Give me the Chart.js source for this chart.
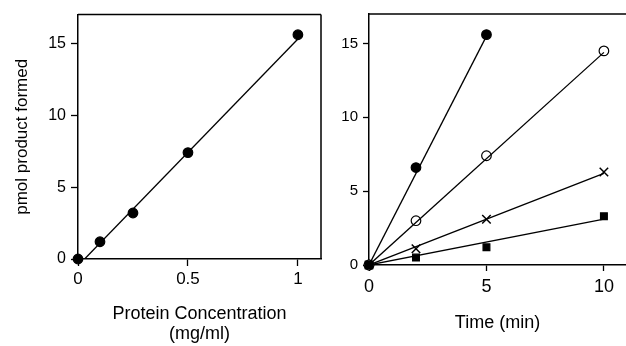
<!DOCTYPE html>
<html>
<head>
<meta charset="utf-8">
<script src="https://cdn.jsdelivr.net/npm/chart.js@4/dist/chart.umd.min.js"></script>
<style>
  html, body { margin: 0; padding: 0; background: #fff; }
  canvas { position: absolute; top: 0; }
  #left-graph { left: 0; }
  #right-graph { left: 325px; }
</style>
</head>
<body>
<canvas id="left-graph" width="325" height="346"></canvas>
<canvas id="right-graph" width="301" height="346"></canvas>
<script>
// Left panel: product vs protein concentration
const concX = [0, 0.1, 0.25, 0.5, 1];
const concY = [0, 1.2, 3.2, 7.4, 15.6];
const concFitX = [0.03, 1];
const concFitY = [0, 15.3];
const concTicksX = [0, 0.5, 1];
const concTickLabelsX = ['0', '0.5', '1'];
const productTicksY = [0, 5, 10, 15];

// Right panel: product vs time, four conditions
const timeX = [0, 2, 5, 10];
const filledCircleY = [0, 6.6, 15.6];
const openCircleY = [0, 3.0, 7.4, 14.5];
const crossY = [0, 1.1, 3.1, 6.3];
const squareY = [0, 0.5, 1.2, 3.3];
const filledFitY = [0, 15.5]; // ends at t = 5
const openFitY = [0, 14.4];
const crossFitY = [0, 6.2];
const squareFitY = [0, 3.1];
const timeTicksX = [0, 5, 10];

const FONT = '"Liberation Sans", Arial, Helvetica, sans-serif';

function pts(xs, ys) {
    return ys.map((y, i) => ({ x: xs[i], y: y }));
}

// draws the remaining sides of the plot box
const framePlugin = {
    id: 'frame',
    afterDraw(chart, args, opts) {
        const { ctx, chartArea: a } = chart;
        ctx.save();
        ctx.strokeStyle = '#000';
        ctx.lineWidth = 1.5;
        ctx.beginPath();
        ctx.moveTo(a.left, a.top);
        ctx.lineTo(a.right, a.top);
        if (opts.right) {
            ctx.moveTo(a.right, a.top);
            ctx.lineTo(a.right, a.bottom);
        }
        ctx.stroke();
        ctx.restore();
    }
};

function fixTicks(values) {
    return scale => { scale.ticks = values.map(v => ({ value: v })); };
}

function pointSet(data, style, radius, fill) {
    return {
        data: data,
        showLine: false,
        pointStyle: style,
        pointRadius: radius,
        pointBackgroundColor: fill,
        pointBorderColor: '#000',
        pointBorderWidth: style === 'crossRot' ? 1.5 : 1.2,
        clip: false
    };
}

function lineSet(data) {
    return {
        data: data,
        showLine: true,
        borderColor: '#000',
        borderWidth: 1.3,
        pointRadius: 0,
        fill: false
    };
}

function axisBase(fontSize, tickLen, pad) {
    return {
        type: 'linear',
        border: { display: true, color: '#000', width: 1.5 },
        grid: { drawOnChartArea: false, drawTicks: true, tickLength: tickLen, tickColor: '#000', tickWidth: 1.3 },
        ticks: { color: '#000', padding: pad, font: { family: FONT, size: fontSize } }
    };
}

// left chart
const lx = axisBase(17, 7, 3);
lx.min = 0; lx.max = 1.105;
lx.afterBuildTicks = fixTicks(concTicksX);
lx.afterFit = s => { s.height = 87; };
lx.ticks.callback = v => concTickLabelsX[concTicksX.indexOf(v)];
lx.title = { display: true, text: ['Protein Concentration', '(mg/ml)'], color: '#000',
    font: { family: FONT, size: 18, lineHeight: '20px' }, padding: { top: 0, bottom: 2 } };

const ly = axisBase(16, 7, 5);
ly.min = 0; ly.max = 17;
ly.afterBuildTicks = fixTicks(productTicksY);
ly.afterFit = s => { s.width = 78; };
ly.title = { display: true, text: 'pmol product formed', color: '#000',
    font: { family: FONT, size: 17 }, padding: { top: 12, bottom: 0 } };

new Chart(document.getElementById('left-graph'), {
    type: 'scatter',
    data: {
        datasets: [
            lineSet(pts(concFitX, concFitY)),
            pointSet(pts(concX, concY), 'circle', 4.8, '#000')
        ]
    },
    options: {
        responsive: false,
        animation: false,
        layout: { autoPadding: false, padding: { top: 14, right: 4, left: 0, bottom: 0 } },
        scales: { x: lx, y: ly },
        plugins: { legend: { display: false }, tooltip: { enabled: false }, frame: { right: true } }
    },
    plugins: [framePlugin]
});

// right chart
const rx = axisBase(18, 6, 5);
rx.min = 0; rx.max = 10.94;
rx.afterBuildTicks = fixTicks(timeTicksX);
rx.afterFit = s => { s.height = 81; };
rx.title = { display: true, text: 'Time (min)', color: '#000',
    font: { family: FONT, size: 18 }, padding: { top: 0, bottom: 12 } };

const ry = axisBase(15, 6, 5);
ry.min = 0; ry.max = 17;
ry.afterBuildTicks = fixTicks(productTicksY);
ry.afterFit = s => { s.width = 44; };

new Chart(document.getElementById('right-graph'), {
    type: 'scatter',
    data: {
        datasets: [
            lineSet(pts([0, 5], filledFitY)),
            lineSet(pts([0, 10], openFitY)),
            lineSet(pts([0, 10], crossFitY)),
            lineSet(pts([0, 10], squareFitY)),
            pointSet(pts(timeX, squareY), 'rect', 4.8, '#000'),
            pointSet(pts(timeX, crossY), 'crossRot', 6, '#000'),
            pointSet(pts(timeX, openCircleY), 'circle', 4.8, '#fff'),
            pointSet(pts(timeX, filledCircleY), 'circle', 4.8, '#000')
        ]
    },
    options: {
        responsive: false,
        animation: false,
        layout: { autoPadding: false, padding: { top: 14, right: 0, left: 0, bottom: 0 } },
        scales: { x: rx, y: ry },
        plugins: { legend: { display: false }, tooltip: { enabled: false }, frame: { right: false } }
    },
    plugins: [framePlugin]
});
</script>
</body>
</html>
